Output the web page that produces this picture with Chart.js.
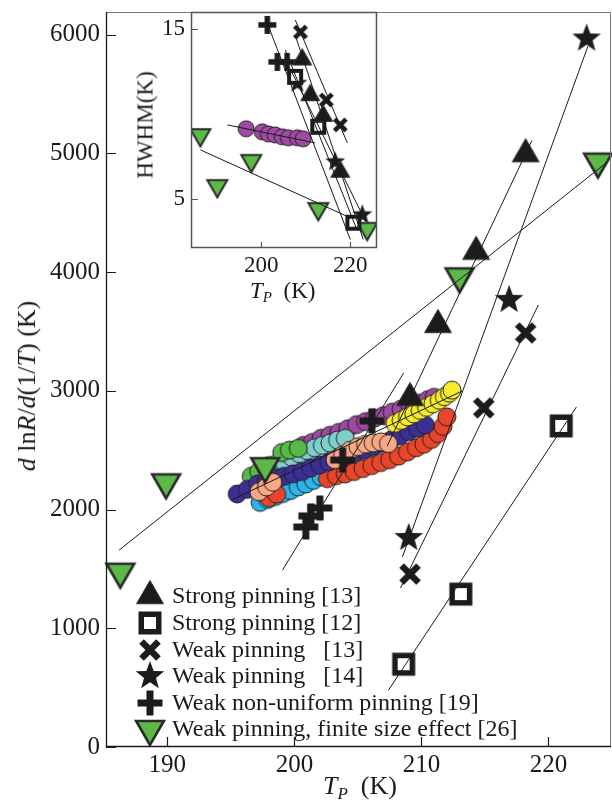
<!DOCTYPE html>
<html><head><meta charset="utf-8">
<script src="https://cdn.jsdelivr.net/npm/chart.js"></script>
<style>
html,body{margin:0;padding:0;background:#fff;}
#wrap{position:relative;width:612px;height:803px;overflow:hidden;}
#main{position:absolute;left:0;top:0;}
#inset{position:absolute;left:130px;top:0;}
.t{position:absolute;font-family:"Liberation Serif","Times New Roman",serif;color:#1a1a1a;white-space:pre;}
.rot{transform:translate(-50%,-50%) rotate(-90deg);}
</style></head><body>
<div id="wrap">
<canvas id="main" width="612" height="803"></canvas>
<canvas id="inset" width="252" height="290"></canvas>
<div class="t" style="left:323px;top:773px;font-size:26px;line-height:26px;"><i>T</i><i style="font-size:17px;position:relative;top:5px;">P</i>  (K)</div>
<div class="t rot" style="left:27px;top:386px;font-size:26px;line-height:26px;"><i>d</i> ln<i>R</i>/<i>d</i>(1/<i>T</i>) (K)</div>
<div class="t rot" style="left:145px;top:125px;font-size:23px;line-height:23px;">HWHM(K)</div>
<div class="t" style="left:250px;top:279px;font-size:23px;line-height:23px;"><i>T</i><i style="font-size:15px;position:relative;top:4px;">P</i>  (K)</div>
</div>
<script>
// ---------- main plot data: T_P (K) vs d lnR/d(1/T) (K) ----------
const xTicks = [190, 200, 210, 220];
const yTicks = [0, 1000, 2000, 3000, 4000, 5000, 6000];

const strong13T = [209.1, 211.3, 214.3, 218.2];
const strong13S = [2940, 3555, 4171, 4993];
const strong12T = [208.6, 213.1, 221.0];
const strong12S = [697, 1288, 2704];
const weak13T = [209.1, 214.9, 218.2];
const weak13S = [1456, 2856, 3487];
const weak14T = [209.0, 216.9, 223.0];
const weak14S = [1761, 3766, 5967];
const nonUnifT = [200.9, 201.3, 202.0, 203.8, 206.1];
const nonUnifS = [1853, 1946, 2013, 2417, 2747];
const finiteT = [186.3, 189.9, 197.7, 213.0, 223.9];
const finiteS = [1476, 2229, 2365, 3964, 4930];

// colored circle series
const purpleT = [200.0, 200.7, 201.4, 202.1, 202.8, 203.5, 204.2, 204.9, 205.6, 206.3, 207.0, 207.7, 208.4, 209.1, 209.8, 210.5, 211.0];
const purpleS = [2500, 2540, 2565, 2600, 2625, 2650, 2680, 2715, 2740, 2770, 2790, 2820, 2845, 2870, 2895, 2925, 2945];
const tealT = [198.0, 198.6, 199.2, 199.8, 200.4, 201.0, 201.6, 202.2, 202.8, 203.4, 204.0];
const tealS = [2370, 2385, 2400, 2440, 2470, 2495, 2520, 2540, 2560, 2585, 2600];
const greenT = [196.6, 197.2, 197.8, 199.0, 199.6, 200.3, 205.2, 205.8];
const greenS = [2280, 2320, 2345, 2480, 2500, 2515, 2420, 2445];
const lightBlueT = [197.3, 197.9, 198.5, 199.1, 199.7, 200.3, 200.9, 201.5, 202.1, 202.7, 203.3, 203.9, 204.5, 205.1];
const lightBlueS = [2060, 2085, 2110, 2135, 2160, 2190, 2215, 2245, 2275, 2300, 2320, 2345, 2370, 2390];
const redT = [198.0, 198.6, 202.6, 203.3, 204.0, 204.7, 205.4, 206.1, 206.8, 207.5, 208.2, 208.9, 209.6, 210.2, 210.8, 211.3, 211.7, 212.0];
const redS = [2100, 2130, 2260, 2285, 2300, 2320, 2345, 2370, 2395, 2420, 2450, 2485, 2520, 2550, 2590, 2640, 2700, 2780];
const navyT = [195.5, 196.3, 197.1, 197.8, 198.5, 199.2, 199.9, 200.6, 201.3, 202.0, 202.7, 203.4, 204.1, 204.8, 205.5, 206.2, 206.9, 207.6, 208.3, 209.0, 209.7, 210.3];
const navyS = [2131, 2170, 2215, 2240, 2266, 2280, 2300, 2320, 2350, 2375, 2400, 2430, 2455, 2480, 2505, 2530, 2555, 2585, 2620, 2655, 2685, 2712];
const salmonT = [197.2, 197.8, 198.3, 203.2, 203.8, 204.4, 205.0, 205.6, 206.2, 206.8, 207.4];
const salmonS = [2150, 2190, 2230, 2420, 2460, 2500, 2530, 2550, 2560, 2570, 2555];
const yellowT = [207.9, 208.4, 208.9, 209.4, 209.9, 210.4, 210.9, 211.4, 211.8, 212.2, 212.4];
const yellowS = [2725, 2750, 2780, 2805, 2835, 2860, 2890, 2920, 2950, 2980, 3005];

// fit lines (end points)
const fitStrong13T = [207.3, 218.7], fitStrong13S = [2533, 5109];
const fitStrong12T = [207.4, 222.2], fitStrong12S = [478, 2864];
const fitWeak13T = [208.35, 219.2], fitWeak13S = [1338, 3722];
const fitWeak14T = [208.5, 223.1], fitWeak14S = [1600, 5900];
const fitNonUnifT = [199.06, 208.6], fitNonUnifS = [1490, 3150];
const fitFiniteT = [186.2, 224.57], fitFiniteS = [1658, 4922];
const fitClusterT = [195.04, 213.23], fitClusterS = [2080, 2999];

const legendLabels = ["Strong pinning [13]", "Strong pinning [12]", "Weak pinning   [13]",
  "Weak pinning   [14]", "Weak non-uniform pinning [19]", "Weak pinning, finite size effect [26]"];

// ---------- inset data: T_P (K) vs HWHM (K) ----------
const inXTicks = [200, 220];
const inYTicks = [5, 15];
const inStrong13T = [209.2, 211.0, 213.9, 217.75];
const inStrong13H = [13.2, 11.1, 9.88, 6.59];
const inStrong12T = [207.6, 212.8, 220.7];
const inStrong12H = [12.18, 9.24, 3.59];
const inWeak13T = [208.8, 214.6, 217.75];
const inWeak13H = [14.82, 10.82, 9.35];
const inWeak14T = [208.1, 216.6, 222.7];
const inWeak14H = [11.8, 7.18, 4.06];
const inNonUnifT = [201.35, 203.6, 205.8];
const inNonUnifH = [15.24, 13.06, 13.06];
const inFiniteT = [186.3, 190.1, 197.75, 212.8, 223.8];
const inFiniteH = [8.76, 5.76, 7.24, 4.41, 3.24];
const inPurpleT = [196.6, 200.2, 201.6, 203.1, 204.7, 206.1, 208.1, 209.4];
const inPurpleH = [9.12, 8.94, 8.82, 8.76, 8.65, 8.59, 8.59, 8.53];

const inFitNonUnifT = [200.9, 220.0], inFitNonUnifH = [15.65, 2.6];
const inFitStrong13T = [207.6, 222.9], inFitStrong13H = [14.65, 2.6];
const inFitStrong12T = [205.4, 221.3], inFitStrong12H = [13.76, 3.3];
const inFitWeak14T = [206.5, 223.5], inFitWeak14H = [12.65, 3.63];
const inFitWeak13T = [207.64, 219.33], inFitWeak13H = [15.53, 8.29];
const inFitFiniteT = [186.3, 220.0], inFitFiniteH = [7.88, 3.88];
const inFitPurpleT = [192.4, 212.1], inFitPurpleH = [9.35, 8.29];

// ---------- marker images ----------
const INK = '#1c1c1c';
const GREEN = '#5cb947';
function mkc(w, h, fn) { const c = document.createElement('canvas'); c.width = w; c.height = h; const g = c.getContext('2d'); g.translate(w / 2, h / 2); fn(g); return c; }
function evenSize(v) { return 2 * Math.ceil(v / 2); }
function triImg(r, down, fill, stroke, lw) {
  const s = evenSize(2 * r + lw + 4);
  return mkc(s, s, g => {
    g.beginPath();
    for (let k = 0; k < 3; k++) { const a = k * 2 * Math.PI / 3 + (down ? Math.PI : 0); g.lineTo(r * Math.sin(a), -r * Math.cos(a)); }
    g.closePath(); g.fillStyle = fill; g.fill();
    g.lineJoin = 'miter'; g.lineWidth = lw; g.strokeStyle = stroke; g.stroke();
  });
}
function sqImg(o, b) {
  const s = evenSize(o + 2);
  return mkc(s, s, g => { g.fillStyle = INK; g.fillRect(-o / 2, -o / 2, o, o); g.fillStyle = '#fff'; const i = o - 2 * b; g.fillRect(-i / 2, -i / 2, i, i); });
}
function xImg(h, lw) {
  const s = evenSize(2 * h + lw + 4);
  return mkc(s, s, g => { g.strokeStyle = INK; g.lineWidth = lw; g.lineCap = 'butt'; g.beginPath(); g.moveTo(-h, -h); g.lineTo(h, h); g.moveTo(h, -h); g.lineTo(-h, h); g.stroke(); });
}
function starImg(R, ratio) {
  const s = evenSize(2 * R + 4);
  return mkc(s, s, g => {
    g.beginPath();
    for (let k = 0; k < 10; k++) { const rr = k % 2 ? R * ratio : R; const a = k * Math.PI / 5; g.lineTo(rr * Math.sin(a), -rr * Math.cos(a)); }
    g.closePath(); g.fillStyle = INK; g.fill();
  });
}
function plusImg(size, arm) {
  const s = evenSize(size + 2);
  return mkc(s, s, g => { g.fillStyle = INK; g.fillRect(-size / 2, -arm / 2, size, arm); g.fillRect(-arm / 2, -size / 2, arm, size); });
}
function circImg(r, fill) {
  const s = evenSize(2 * r + 4);
  return mkc(s, s, g => { g.beginPath(); g.arc(0, 0, r, 0, 2 * Math.PI); g.fillStyle = fill; g.fill(); g.lineWidth = 1; g.strokeStyle = '#222'; g.stroke(); });
}

const M = {
  tri: triImg(15.5, false, INK, '#333', 1),
  sq: sqImg(23, 5.5),
  x: xImg(8.5, 6.5),
  star: starImg(15, 0.42),
  plus: plusImg(25, 7),
  gtri: triImg(16, true, GREEN, '#2a2a2a', 2.6)
};
const IM = {
  tri: triImg(11, false, INK, '#333', 1),
  sq: sqImg(16, 4),
  x: xImg(5.8, 4.6),
  star: starImg(10.5, 0.42),
  plus: plusImg(18, 5.5),
  gtri: triImg(11.5, true, GREEN, '#2a2a2a', 2),
  purple: circImg(8, '#a04aa3')
};
const circleColors = { purple: '#9c4a9f', teal: '#7fcfcc', green: '#57b947', lightBlue: '#2db4e8', red: '#e9452b', navy: '#3b2f96', salmon: '#f8a882', yellow: '#f6eb2c' };
const CR = 9;

const pts = (X, Y) => X.map((v, i) => ({ x: v, y: Y[i] }));
function marks(X, Y, img, order) { return { data: pts(X, Y), pointStyle: img, pointRadius: 10, order: order, clip: false, showLine: false }; }
function fit(X, Y) { return { data: pts(X, Y), showLine: true, pointRadius: 0, borderColor: '#1a1a1a', borderWidth: 1, order: 0, clip: false }; }

const FONT = '"Liberation Serif", "Times New Roman", serif';

function frameTicks(opts) {
  return {
    id: 'frame',
    beforeDraw(chart) {
      if (!opts.fill) return;
      const a = chart.chartArea, ctx = chart.ctx;
      ctx.save(); ctx.fillStyle = '#fff'; ctx.fillRect(a.left, a.top, a.right - a.left, a.bottom - a.top); ctx.restore();
    },
    afterDraw(chart) {
      const a = chart.chartArea, ctx = chart.ctx, sx = chart.scales.x, sy = chart.scales.y;
      ctx.save();
      ctx.lineWidth = opts.lwLight; ctx.strokeStyle = opts.light;
      ctx.beginPath(); ctx.moveTo(a.left, a.top + 0.5); ctx.lineTo(a.right - 0.5, a.top + 0.5); ctx.lineTo(a.right - 0.5, a.bottom); ctx.stroke();
      ctx.lineWidth = opts.lw; ctx.strokeStyle = opts.dark;
      ctx.beginPath(); ctx.moveTo(a.left + 0.5, a.top); ctx.lineTo(a.left + 0.5, a.bottom - 0.5); ctx.lineTo(a.right, a.bottom - 0.5); ctx.stroke();
      ctx.lineWidth = 1.2; ctx.strokeStyle = opts.dark; ctx.beginPath();
      sx.ticks.forEach(t => { const p = Math.round(sx.getPixelForValue(t.value)) + 0.5; ctx.moveTo(p, a.bottom); ctx.lineTo(p, a.bottom - opts.tx); });
      sy.ticks.forEach(t => { const p = Math.round(sy.getPixelForValue(t.value)) + 0.5; ctx.moveTo(a.left, p); ctx.lineTo(a.left + opts.ty, p); });
      ctx.stroke();
      ctx.restore();
    }
  };
}

const legendPlugin = {
  id: 'lg',
  afterDatasetsDraw(chart) {
    const ctx = chart.ctx;
    const imgs = [M.tri, M.sq, M.x, M.star, M.plus, M.gtri];
    const rows = [596, 623, 650, 676, 703, 729];
    ctx.save();
    ctx.font = '24px ' + FONT; ctx.fillStyle = '#1a1a1a'; ctx.textBaseline = 'middle';
    legendLabels.forEach((lab, i) => {
      const im = imgs[i];
      ctx.drawImage(im, 150 - im.width / 2, rows[i] - im.height / 2);
      ctx.fillText(lab, 172, rows[i] + 1);
    });
    ctx.restore();
  }
};

function zeroPad(s) { s.paddingLeft = 0; s.paddingRight = 0; s.paddingTop = 0; s.paddingBottom = 0; }
function scaleX(min, max, ticks, h, size, pad) {
  return { type: 'linear', min, max, position: 'bottom', grid: { display: false, drawTicks: false }, border: { display: false },
    ticks: { font: { family: FONT, size }, color: '#1a1a1a', padding: pad, maxRotation: 0, callback: v => String(v) },
    afterBuildTicks: s => { s.ticks = ticks.map(v => ({ value: v })); },
    afterFit: s => { s.height = h; zeroPad(s); } };
}
function scaleY(min, max, ticks, w, size, pad) {
  return { type: 'linear', min, max, position: 'left', grid: { display: false, drawTicks: false }, border: { display: false },
    ticks: { font: { family: FONT, size }, color: '#1a1a1a', padding: pad, callback: v => String(v) },
    afterBuildTicks: s => { s.ticks = ticks.map(v => ({ value: v })); },
    afterFit: s => { s.width = w; zeroPad(s); } };
}

new Chart(document.getElementById('main'), {
  type: 'scatter',
  data: { datasets: [
    fit(fitStrong13T, fitStrong13S), fit(fitStrong12T, fitStrong12S), fit(fitWeak13T, fitWeak13S),
    fit(fitWeak14T, fitWeak14S), fit(fitNonUnifT, fitNonUnifS), fit(fitFiniteT, fitFiniteS), fit(fitClusterT, fitClusterS),
    marks(strong13T, strong13S, M.tri, 1), marks(strong12T, strong12S, M.sq, 1), marks(weak13T, weak13S, M.x, 1),
    marks(weak14T, weak14S, M.star, 1), marks(nonUnifT, nonUnifS, M.plus, 1), marks(finiteT, finiteS, M.gtri, 1),
    marks(yellowT, yellowS, circImg(CR, circleColors.yellow), 2),
    marks(salmonT, salmonS, circImg(CR, circleColors.salmon), 3),
    marks(navyT, navyS, circImg(CR, circleColors.navy), 4),
    marks(redT, redS, circImg(CR, circleColors.red), 5),
    marks(lightBlueT, lightBlueS, circImg(CR, circleColors.lightBlue), 6),
    marks(greenT, greenS, circImg(CR, circleColors.green), 7),
    marks(tealT, tealS, circImg(CR, circleColors.teal), 8),
    marks(purpleT, purpleS, circImg(CR, circleColors.purple), 9)
  ] },
  options: {
    responsive: false, animation: false, events: [],
    layout: { autoPadding: false, padding: { top: 12, right: 1, left: 0, bottom: 0 } },
    plugins: { legend: { display: false }, tooltip: { enabled: false } },
    scales: { x: scaleX(185.17, 224.92, xTicks, 56, 25, 3), y: scaleY(0, 6190, yTicks, 106, 25, 6) }
  },
  plugins: [frameTicks({ fill: false, light: '#777', lwLight: 1, dark: '#1a1a1a', lw: 1.3, tx: 10, ty: 10 }), legendPlugin]
});

new Chart(document.getElementById('inset'), {
  type: 'scatter',
  data: { datasets: [
    fit(inFitNonUnifT, inFitNonUnifH), fit(inFitStrong13T, inFitStrong13H), fit(inFitStrong12T, inFitStrong12H),
    fit(inFitWeak14T, inFitWeak14H), fit(inFitWeak13T, inFitWeak13H), fit(inFitFiniteT, inFitFiniteH), fit(inFitPurpleT, inFitPurpleH),
    marks(inStrong13T, inStrong13H, IM.tri, 1), marks(inStrong12T, inStrong12H, IM.sq, 1), marks(inWeak13T, inWeak13H, IM.x, 1),
    marks(inWeak14T, inWeak14H, IM.star, 1), marks(inNonUnifT, inNonUnifH, IM.plus, 1), marks(inFiniteT, inFiniteH, IM.gtri, 1),
    marks(inPurpleT, inPurpleH, IM.purple, 2)
  ].map(d => Object.assign(d, { clip: 0 })) },
  options: {
    responsive: false, animation: false, events: [],
    layout: { autoPadding: false, padding: { top: 12, right: 5, left: 0, bottom: 0 } },
    plugins: { legend: { display: false }, tooltip: { enabled: false } },
    scales: { x: scaleX(184.2, 226, inXTicks, 42, 23, 4), y: scaleY(2.1, 16, inYTicks, 61, 23, 6) }
  },
  plugins: [frameTicks({ fill: true, light: '#555', lwLight: 1.5, dark: '#555', lw: 1.5, tx: 6, ty: 7 })]
});
</script>
</body></html>
